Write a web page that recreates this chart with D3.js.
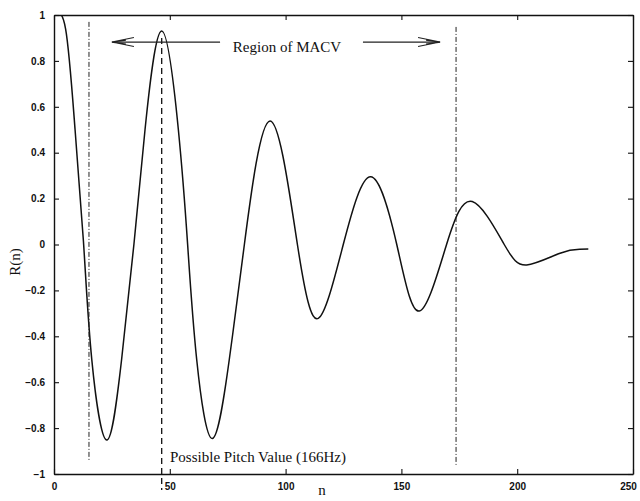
<!DOCTYPE html>
<html>
<head>
<meta charset="utf-8">
<script src="https://cdn.jsdelivr.net/npm/d3@7"></script>
<style>
  body { margin: 0; background: #fff; }
  .tick text { font-family: "Liberation Sans", Arial, sans-serif; font-size: 10px; font-weight: bold; }
  .lbl { font-family: "Liberation Serif", "Times New Roman", serif; font-size: 15px; fill: #111; }
</style>
</head>
<body>
<svg id="chart" width="640" height="501"></svg>
<script>
// autocorrelation R(n) (peaks, zero crossings, half points)
var nValues = [0, 5, 9.1, 12.8, 16.3, 22.8, 29.2, 34.5, 39.3, 46.5, 53.7, 57.7, 61.6, 68.4,
    75.7, 82.2, 93.3, 105.1, 114.1, 124.9, 136.7, 148, 157.7, 169.5, 180.6, 194.4, 204.1,
    218.5, 227, 230.7]
var rValues = [1, 0.94, 0.5, 0, -0.5, -0.852, -0.5, 0, 0.5, 0.93, 0.5, 0, -0.5, -0.845,
    -0.5, 0, 0.538, 0, -0.322, 0, 0.295, 0, -0.29, 0, 0.187, 0, -0.089,
    -0.038, -0.021, -0.02]

var xTicks = [0, 50, 100, 150, 200, 250]
var yTicks = [-1, -0.8, -0.6, -0.4, -0.2, 0, 0.2, 0.4, 0.6, 0.8, 1]

var regionStart = 15.1, regionEnd = 173.6, pitchLag = 46.5
var arrowLeft = [25, 71.7], arrowRight = [133.4, 166.7], arrowLevel = 0.882

var svg = d3.select("#chart"),
    margin = { top: 15, left: 54, bottom: 27, right: 7 },
    width = +svg.attr("width"),
    height = +svg.attr("height");

var x = d3.scaleLinear().domain([0, 250]).range([margin.left, width - margin.right])
var y = d3.scaleLinear().domain([-1, 1]).range([height - margin.bottom, margin.top])

var data = nValues.map((n, i) => ({ n: n, r: rValues[i] }))

svg.append("clipPath").attr("id", "plot")
    .append("rect")
    .attr("x", x(0)).attr("y", y(1))
    .attr("width", x(250) - x(0)).attr("height", y(-1) - y(1))

// axes, ticks pointing inward on all four sides
var xAxis = svg.append("g")
    .attr("transform", `translate(0,${y(-1)})`)
    .call(d3.axisBottom(x).tickValues(xTicks).tickSizeInner(-5).tickSizeOuter(0).tickPadding(9).tickFormat(d3.format("d")))
xAxis.selectAll(".tick text").filter(d => d == 250).attr("dx", -5)
svg.append("g")
    .attr("transform", `translate(0,${y(1)})`)
    .call(d3.axisTop(x).tickValues(xTicks).tickSizeInner(-5).tickSizeOuter(0).tickFormat(""))
svg.append("g")
    .attr("transform", `translate(${x(0)},0)`)
    .call(d3.axisLeft(y).tickValues(yTicks).tickSizeInner(-5).tickSizeOuter(0).tickPadding(9).tickFormat(d => d3.format("")(+d.toFixed(1)).replace("-", "\u2212")))
svg.append("g")
    .attr("transform", `translate(${x(250)},0)`)
    .call(d3.axisRight(y).tickValues(yTicks).tickSizeInner(-5).tickSizeOuter(0).tickFormat(""))

svg.selectAll(".domain").attr("stroke", "#111").attr("stroke-width", 1.4)
svg.selectAll(".tick line").attr("stroke", "#111").attr("stroke-width", 1.1)
svg.selectAll(".tick text").attr("fill", "#111")

// the curve
svg.append("path")
    .datum(data)
    .attr("clip-path", "url(#plot)")
    .attr("fill", "none")
    .attr("stroke", "#111")
    .attr("stroke-width", 1.5)
    .attr("d", d3.line().x(d => x(d.n)).y(d => y(d.r)).curve(d3.curveNatural))

// region of MACV limits (dash-dot)
svg.selectAll(".region")
    .data([[regionStart, 0.97, -0.946], [regionEnd, 0.948, -0.96]])
    .enter().append("line")
    .attr("class", "region")
    .attr("x1", d => x(d[0])).attr("x2", d => x(d[0]))
    .attr("y1", d => y(d[1])).attr("y2", d => y(d[2]))
    .attr("stroke", "#222")
    .attr("stroke-width", 1)
    .attr("stroke-dasharray", "5,2,1,2")

// pitch lag (dashed)
svg.append("line")
    .attr("x1", x(pitchLag)).attr("x2", x(pitchLag))
    .attr("y1", y(0.9)).attr("y2", y(-1.07))
    .attr("stroke", "#111")
    .attr("stroke-width", 1.3)
    .attr("stroke-dasharray", "6,4")

// arrows
function arrow(from, to) {
    var dir = Math.sign(to - from)
    var ay = y(arrowLevel)
    svg.append("line")
        .attr("x1", x(from)).attr("x2", x(to))
        .attr("y1", ay).attr("y2", ay)
        .attr("stroke", "#222").attr("stroke-width", 1.1)
    var tip = x(to)
    svg.append("path")
        .attr("d", `M${tip - dir * 22},${ay - 4.5}L${tip},${ay}L${tip - dir * 22},${ay + 4.5}M${tip - dir * 14},${ay - 2}L${tip},${ay}L${tip - dir * 14},${ay + 2}`)
        .attr("fill", "none")
        .attr("stroke", "#222").attr("stroke-width", 1.1)
}
arrow(arrowLeft[1], arrowLeft[0])
arrow(arrowRight[0], arrowRight[1])

svg.append("text").attr("class", "lbl")
    .attr("x", x(100.6)).attr("y", y(0.837))
    .attr("text-anchor", "middle")
    .text("Region of MACV")

svg.append("text").attr("class", "lbl")
    .attr("x", x(50.1)).attr("y", y(-0.947))
    .text("Possible Pitch Value (166Hz)")

// axis labels
svg.append("text").attr("class", "lbl")
    .attr("x", 322).attr("y", 495)
    .attr("text-anchor", "middle")
    .text("n")
svg.append("text").attr("class", "lbl")
    .attr("transform", "translate(20,262) rotate(-90)")
    .attr("text-anchor", "middle")
    .text("R(n)")
</script>
</body>
</html>
